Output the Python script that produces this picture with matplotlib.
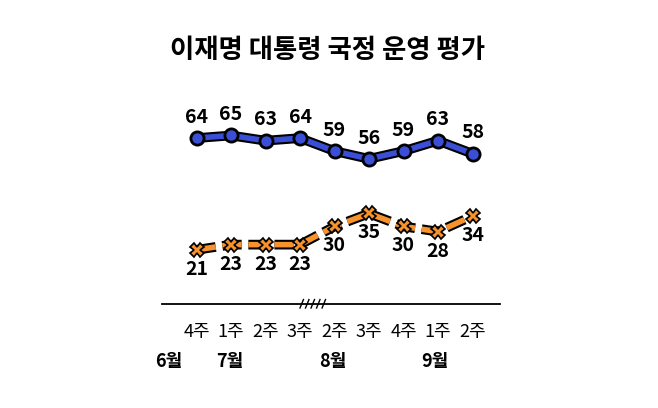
import matplotlib.pyplot as plt
import matplotlib.patheffects as pe
from matplotlib.transforms import blended_transform_factory

plt.rcParams['font.family'] = ['Noto Sans CJK KR', 'DejaVu Sans']

weeks = ["4주", "1주", "2주", "3주", "2주", "3주", "4주", "1주", "2주"]
months = ["6월", "7월", "8월", "9월"]
month_pos = [-0.8, 0.95, 3.95, 6.9]
positive = [64, 65, 63, 64, 59, 56, 59, 63, 58]
negative = [21, 23, 23, 23, 30, 35, 30, 28, 34]

BLUE = "#3a4fd6"
ORANGE = "#f7932c"


def main():
    fig = plt.figure(figsize=(6.58, 4.08), dpi=100)
    ax = fig.add_axes([162 / 658, 0.3176, 345 / 658, 0.414])
    x = range(len(weeks))

    outline = [pe.Stroke(linewidth=7, foreground="black"), pe.Normal()]
    # lines with black outline, markers drawn separately
    ax.plot(x, positive, color=BLUE, linewidth=4, path_effects=outline,
            zorder=3)
    ax.plot(x, positive, linestyle="none", marker="o", markersize=9.5,
            markerfacecolor=BLUE, markeredgecolor="black",
            markeredgewidth=2, zorder=4)
    ax.plot(x, negative, color=ORANGE, linewidth=4, linestyle=(0, (3.5, 1.2)),
            path_effects=outline, zorder=3)
    ax.plot(x, negative, linestyle="none", marker="X", markersize=10,
            markerfacecolor=ORANGE, markeredgecolor="black",
            markeredgewidth=1.2, zorder=4)

    for i, v in enumerate(positive):
        ax.annotate(str(v), (i, v), xytext=(0, 15), textcoords="offset points",
                    ha="center", va="center", fontsize=14, fontweight="bold")
    for i, v in enumerate(negative):
        ax.annotate(str(v), (i, v), xytext=(0, -14),
                    textcoords="offset points", ha="center", va="center",
                    fontsize=14, fontweight="bold")

    ax.set_xlim(-1, 9)
    ax.set_ylim(10, 75)
    for s in ax.spines.values():
        s.set_visible(False)
    ax.set_yticks([])
    ax.set_xticks(list(x))
    ax.set_xticklabels(weeks, fontsize=13)
    ax.tick_params(axis="x", length=0, pad=32)

    trans = blended_transform_factory(ax.transData, ax.transAxes)
    ax.plot([-1, 8.8], [-0.151, -0.151], color="black", linewidth=1.3,
            transform=trans, clip_on=False)
    for k in range(5):
        x0 = 3.0 + k * 0.16
        ax.plot([x0, x0 + 0.1], [-0.175, -0.125], color="black",
                linewidth=1, transform=trans, clip_on=False)

    for m, p in zip(months, month_pos):
        ax.text(p, -0.49, m, transform=trans, ha="center", va="center",
                fontsize=13, fontweight="bold")

    fig.text(0.497, 0.877, "이재명 대통령 국정 운영 평가", ha="center",
             va="center", fontsize=19, fontweight="bold")
    fig.savefig("out.png")


if __name__ == "__main__":
    main()
